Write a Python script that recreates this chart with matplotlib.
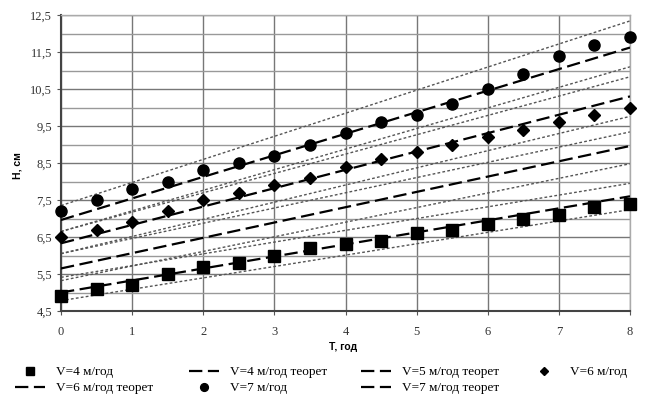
import matplotlib
matplotlib.use("Agg")
import matplotlib.pyplot as plt
from matplotlib.lines import Line2D

# Data
t = [0, 0.5, 1, 1.5, 2, 2.5, 3, 3.5, 4, 4.5, 5, 5.5, 6, 6.5, 7, 7.5, 8]
h_v4 = [4.9, 5.1, 5.2, 5.5, 5.7, 5.8, 6.0, 6.2, 6.3, 6.4, 6.6, 6.7, 6.85, 7.0, 7.1, 7.3, 7.4]
h_v6 = [6.5, 6.7, 6.9, 7.2, 7.5, 7.7, 7.9, 8.1, 8.4, 8.6, 8.8, 9.0, 9.2, 9.4, 9.6, 9.8, 10.0]
h_v7 = [7.2, 7.5, 7.8, 8.0, 8.3, 8.5, 8.7, 9.0, 9.3, 9.6, 9.8, 10.1, 10.5, 10.9, 11.4, 11.7, 11.9]

t_line = [0, 8]
theor_v4 = [5.0, 7.6]
theor_v5 = [5.65, 8.96]
theor_v6 = [6.33, 10.3]
theor_v7 = [6.96, 11.62]

# dotted bound lines (value at T=0, value at T=8)
bounds = [
    [4.78, 7.24],
    [5.41, 7.95],
    [5.32, 8.48],
    [6.05, 9.34],
    [6.05, 9.76],
    [6.65, 10.83],
    [6.65, 11.1],
    [7.35, 12.34],
]

labels = ["V=4 м/год", "V=4 м/год теорет", "V=5 м/год теорет", "V=6 м/год",
          "V=6 м/год теорет", "V=7 м/год", "V=7 м/год теорет"]
y_ticks = [4.5, 5.5, 6.5, 7.5, 8.5, 9.5, 10.5, 11.5, 12.5]

W, H = 654, 400
fig = plt.figure(figsize=(W / 100, H / 100), dpi=100)
ax = fig.add_axes([61 / W, 1 - 311 / H, 569 / W, 296 / H])

serif = "Liberation Serif"
sans = "Liberation Sans"

dash = (0, (6, 2.5))
dot = (0, (2, 1.6))
dlw = 1.6

for b in bounds:
    ax.plot(t_line, b, color="#555555", lw=1.0, linestyle=dot, zorder=2)

for th in [theor_v4, theor_v5, theor_v6, theor_v7]:
    ax.plot(t_line, th, color="black", lw=dlw, linestyle=dash, zorder=3)

s4, = ax.plot(t, h_v4, linestyle="none", marker="s", markersize=8, color="black", zorder=4, clip_on=False)
s6, = ax.plot(t, h_v6, linestyle="none", marker="D", markersize=6, color="black", zorder=4, clip_on=False)
s7, = ax.plot(t, h_v7, linestyle="none", marker="o", markersize=8, color="black", zorder=4, clip_on=False)

ax.set_xlim(0, 8)
ax.set_ylim(4.5, 12.5)
ax.set_xticks(range(0, 9))
ax.set_yticks(y_ticks)
ax.set_yticks([5.0, 6.0, 7.0, 8.0, 9.0, 10.0, 11.0, 12.0], minor=True)
ax.set_yticklabels([f"{v:.1f}".replace(".", ",") for v in y_ticks])
ax.grid(True, which="major", color="#777777", lw=1.0)
ax.grid(True, which="minor", axis="y", color="#999999", lw=1.0)
ax.tick_params(axis="both", which="both", length=3, color="#555555", labelsize=9, labelcolor="#333333")
ax.tick_params(axis="x", pad=8)
ax.tick_params(axis="y", which="minor", length=0)
for lab in ax.get_xticklabels() + ax.get_yticklabels():
    lab.set_fontfamily(serif)
for side in ["left", "bottom"]:
    ax.spines[side].set_color("#444444")
    ax.spines[side].set_linewidth(1.5)
for side in ["right", "top"]:
    ax.spines[side].set_color("#aaaaaa")
    ax.spines[side].set_linewidth(1.0)

fig.text(343 / W, 1 - 347 / H, "Т, год", fontfamily=sans, fontweight="bold",
         fontsize=7.5, ha="center", va="center")
fig.text(18 / W, 1 - 166 / H, "Н, см", fontfamily=sans, fontweight="bold",
         fontsize=7.5, ha="center", va="center", rotation=90)

def dash_handle():
    return Line2D([], [], color="black", lw=dlw, linestyle=dash)

handles = [s4, dash_handle(), dash_handle(), s6, dash_handle(), s7, dash_handle()]
# handle left x (px), row center y (px)
pos = [(15, 372), (189, 372), (361, 372), (529, 372),
       (15, 388), (189, 388), (361, 388)]
for h, lab, (px, py) in zip(handles, labels, pos):
    fig.legend([h], [lab], loc="center left",
               bbox_to_anchor=(px / W, 1 - py / H),
               frameon=False, prop={"family": serif, "size": 9.5},
               handlelength=2.3, handletextpad=0.8, borderpad=0,
               borderaxespad=0, markerscale=0.7)

fig.savefig("out.png", dpi=100)
